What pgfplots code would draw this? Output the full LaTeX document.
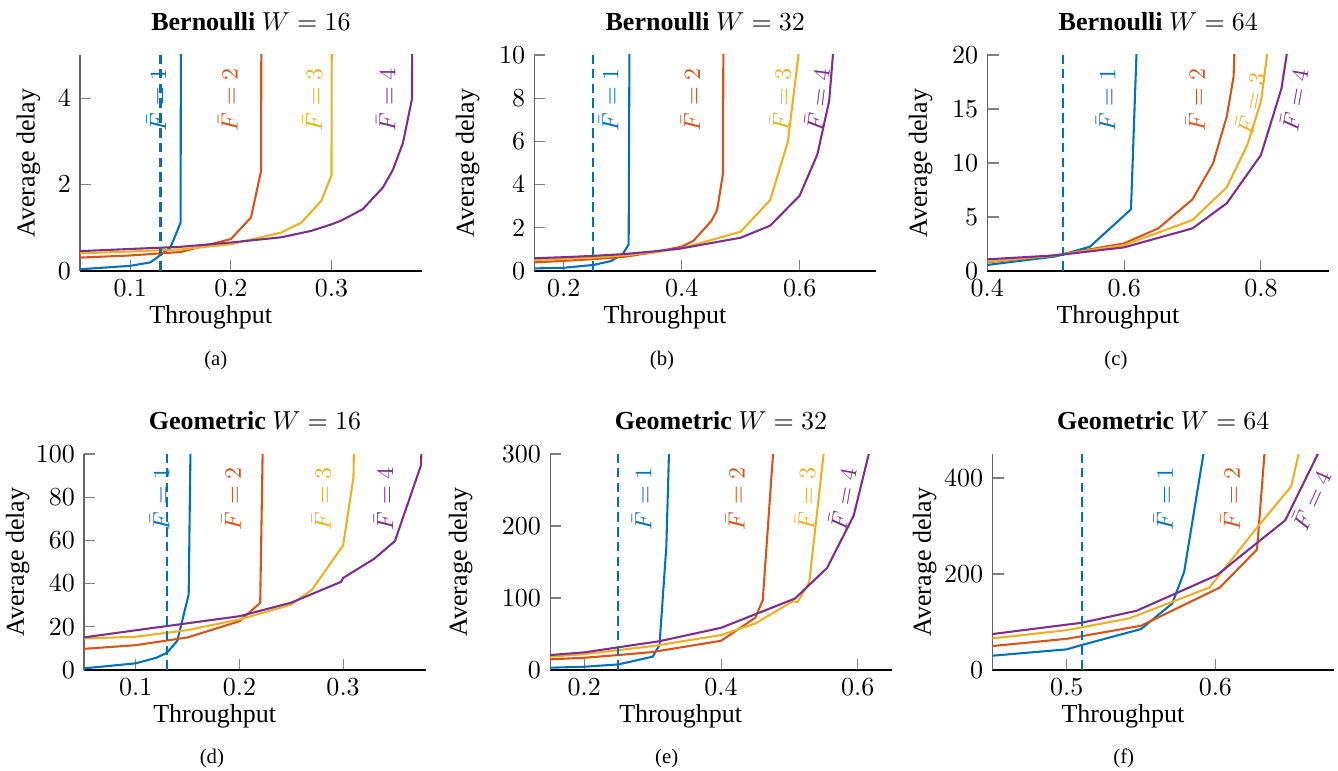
\documentclass[border=0pt]{standalone}
\usepackage[no-math]{fontspec}
\setmainfont{Liberation Serif}
\usepackage{pgfplots}
\pgfplotsset{compat=1.18}
\definecolor{c1}{rgb}{0,0.447,0.741}
\definecolor{c2}{rgb}{0.85,0.325,0.098}
\definecolor{c3}{rgb}{0.929,0.694,0.125}
\definecolor{c4}{rgb}{0.494,0.184,0.556}
\pgfplotsset{
  sub/.style={
    scale only axis, width=131.54pt, height=83.08pt,
    anchor=south west,
    axis lines=left, axis line style={-},
    x axis line style={draw=black}, y axis line style={draw=black!60},
    tick align=inside, major tick length=4.3pt,
    tick style={draw=black!50, line width=0.4pt},
    ymin=0,
    xlabel={Throughput}, ylabel={Average delay},
    title style={at={(0.5,1)}, anchor=base, yshift=3.6pt},
    xlabel style={at={(axis description cs:0.382,-0.241)}, anchor=base},
    ylabel style={at={(axis description cs:#1,0.5)}, anchor=center},
    every axis plot/.append style={line width=0.8pt},
  },
}
\tikzset{lab/.style={font=\small, inner sep=0pt, anchor=center}}
\begin{document}
\begin{tikzpicture}
\useasboundingbox (0,0) rectangle (514.6pt,-296.5pt);

% (a)
\begin{axis}[sub=-0.151, at={(30.77pt,-104.23pt)},
  title={\textbf{Bernoulli} $W=16$},
  xmin=0.05, xmax=0.39, ymax=5, xtick={0.1,0.2,0.3}, ytick={0,2,4}]
\addplot[c1] coordinates {(0.05,0.04)(0.1,0.12)(0.12,0.2)(0.13,0.37)(0.14,0.55)(0.15,1.12)(0.1505,8)};
\addplot[c2] coordinates {(0.05,0.31)(0.1,0.36)(0.15,0.44)(0.2,0.74)(0.22,1.24)(0.23,2.32)(0.2305,8)};
\addplot[c3] coordinates {(0.05,0.41)(0.1,0.45)(0.15,0.5)(0.2,0.62)(0.25,0.89)(0.27,1.12)(0.29,1.63)(0.3,2.22)(0.3005,8)};
\addplot[c4] coordinates {(0.05,0.46)(0.1,0.51)(0.15,0.56)(0.2,0.66)(0.25,0.78)(0.28,0.93)(0.3,1.08)(0.31,1.17)(0.331,1.43)(0.351,1.93)(0.361,2.34)(0.371,2.96)(0.38,3.98)(0.3805,8)};
\addplot[c1, dash pattern=on 3.7pt off 2pt] coordinates {(0.13,0)(0.13,5)};
\node[lab, rotate=90, text=c1] at (axis cs:0.126,3.96) {$\bar{F}=1$};
\node[lab, rotate=90, text=c2] at (axis cs:0.197,3.96) {$\bar{F}=2$};
\node[lab, rotate=90, text=c3] at (axis cs:0.281,3.96) {$\bar{F}=3$};
\node[lab, rotate=90, text=c4] at (axis cs:0.354,3.96) {$\bar{F}=4$};
\end{axis}

% (b)
\begin{axis}[sub=-0.195, at={(205.5pt,-104.23pt)},
  title={\textbf{Bernoulli} $W=32$},
  xmin=0.15, xmax=0.73, ymax=10, xtick={0.2,0.4,0.6}, ytick={0,2,4,6,8,10}]
\addplot[c1] coordinates {(0.15,0.12)(0.2,0.15)(0.25,0.28)(0.28,0.46)(0.3,0.79)(0.31,1.23)(0.312,15)};
\addplot[c2] coordinates {(0.15,0.4)(0.2,0.47)(0.25,0.55)(0.3,0.65)(0.35,0.85)(0.4,1.13)(0.42,1.4)(0.45,2.31)(0.46,2.82)(0.47,4.52)(0.471,15)};
\addplot[c3] coordinates {(0.15,0.51)(0.2,0.56)(0.25,0.62)(0.3,0.72)(0.35,0.85)(0.4,1.05)(0.5,1.82)(0.55,3.29)(0.58,5.99)(0.6,10.45)};
\addplot[c4] coordinates {(0.15,0.59)(0.2,0.64)(0.25,0.7)(0.3,0.78)(0.35,0.9)(0.4,1.05)(0.5,1.54)(0.55,2.1)(0.6,3.49)(0.63,5.4)(0.65,7.87)(0.66,11.2)};
\addplot[c1, dash pattern=on 3.7pt off 2pt] coordinates {(0.25,0)(0.25,10)};
\node[lab, rotate=90, text=c1] at (axis cs:0.276,7.92) {$\bar{F}=1$};
\node[lab, rotate=90, text=c2] at (axis cs:0.415,7.92) {$\bar{F}=2$};
\node[lab, rotate=88, text=c3] at (axis cs:0.567,7.92) {$\bar{F}=3$};
\node[lab, rotate=83, text=c4] at (axis cs:0.629,7.92) {$\bar{F}=4$};
\end{axis}

% (c)
\begin{axis}[sub=-0.195, at={(379.73pt,-104.23pt)},
  title={\textbf{Bernoulli} $W=64$},
  xmin=0.4, xmax=0.9, ymax=20, xtick={0.4,0.6,0.8}, ytick={0,5,10,15,20}]
\addplot[c1] coordinates {(0.4,0.56)(0.5,1.35)(0.55,2.25)(0.61,5.71)(0.62,23.6)};
\addplot[c2] coordinates {(0.4,0.8)(0.5,1.45)(0.6,2.56)(0.65,3.95)(0.7,6.64)(0.73,9.97)(0.75,14.3)(0.76,18)(0.762,22)};
\addplot[c3] coordinates {(0.4,0.86)(0.5,1.45)(0.6,2.4)(0.7,4.72)(0.75,7.75)(0.78,11.67)(0.8,15.7)(0.81,20.5)};
\addplot[c4] coordinates {(0.4,1.08)(0.5,1.45)(0.6,2.19)(0.7,3.95)(0.75,6.27)(0.8,10.74)(0.83,16.9)(0.84,21)};
\addplot[c1, dash pattern=on 3.7pt off 2pt] coordinates {(0.51,0)(0.51,20)};
\node[lab, rotate=90, text=c1] at (axis cs:0.573,15.8) {$\bar{F}=1$};
\node[lab, rotate=90, text=c2] at (axis cs:0.704,15.8) {$\bar{F}=2$};
\node[lab, rotate=78, text=c3] at (axis cs:0.784,15.5) {$\bar{F}=3$};
\node[lab, rotate=80, text=c4] at (axis cs:0.848,15.8) {$\bar{F}=4$};
\end{axis}

% (d)
\begin{axis}[sub=-0.194, at={(32.31pt,-257.69pt)},
  title={\textbf{Geometric} $W=16$},
  xmin=0.05, xmax=0.38, ymax=100, xtick={0.1,0.2,0.3}, ytick={0,20,40,60,80,100}]
\addplot[c1] coordinates {(0.05,0.77)(0.1,3.1)(0.12,5.7)(0.13,8)(0.14,13.5)(0.151,35)(0.1528,105)};
\addplot[c2] coordinates {(0.05,9.8)(0.1,11.5)(0.15,15.1)(0.2,22.6)(0.22,31.1)(0.2225,105)};
\addplot[c3] coordinates {(0.05,14.6)(0.1,15.4)(0.15,18.5)(0.2,23.4)(0.25,30.3)(0.27,37.2)(0.3,57.7)(0.31,89.2)(0.3105,105)};
\addplot[c4] coordinates {(0.05,15.1)(0.1,18.4)(0.2,24.9)(0.25,31.2)(0.298,40.8)(0.3,42.6)(0.33,51.5)(0.35,59.7)(0.375,94.6)(0.376,105)};
\addplot[c1, dash pattern=on 3.7pt off 2pt] coordinates {(0.13,0)(0.13,100)};
\node[lab, rotate=90, text=c1] at (axis cs:0.123,79.2) {$\bar{F}=1$};
\node[lab, rotate=90, text=c2] at (axis cs:0.192,79.2) {$\bar{F}=2$};
\node[lab, rotate=90, text=c3] at (axis cs:0.279,79.2) {$\bar{F}=3$};
\node[lab, rotate=90, text=c4] at (axis cs:0.339,79.2) {$\bar{F}=4$};
\end{axis}

% (e)
\begin{axis}[sub=-0.261, at={(211.54pt,-257.69pt)},
  title={\textbf{Geometric} $W=32$},
  xmin=0.15, xmax=0.65, ymax=300, xtick={0.2,0.4,0.6}, ytick={0,100,200,300}]
\addplot[c1] coordinates {(0.15,3.2)(0.2,4.5)(0.25,7.8)(0.3,18.5)(0.31,34.6)(0.32,170.8)(0.3245,320)};
\addplot[c2] coordinates {(0.15,14.8)(0.2,17)(0.25,20.8)(0.3,25)(0.4,40.6)(0.45,72.5)(0.461,96.9)(0.4775,320)};
\addplot[c3] coordinates {(0.15,18.5)(0.2,22)(0.25,27.7)(0.3,33.2)(0.4,48.5)(0.45,64.6)(0.505,95.5)(0.512,94.6)(0.529,122)(0.5523,320)};
\addplot[c4] coordinates {(0.15,20.8)(0.2,24.5)(0.31,40)(0.4,58.6)(0.508,99.2)(0.555,141.7)(0.594,214.6)(0.616,300)(0.62,316)};
\addplot[c1, dash pattern=on 3.7pt off 2pt] coordinates {(0.25,0)(0.25,300)};
\node[lab, rotate=90, text=c1] at (axis cs:0.284,237.6) {$\bar{F}=1$};
\node[lab, rotate=90, text=c2] at (axis cs:0.4205,237.6) {$\bar{F}=2$};
\node[lab, rotate=89, text=c3] at (axis cs:0.523,237.6) {$\bar{F}=3$};
\node[lab, rotate=80, text=c4] at (axis cs:0.577,237.6) {$\bar{F}=4$};
\end{axis}

% (f)
\begin{axis}[sub=-0.198, at={(381.65pt,-257.69pt)},
  title={\textbf{Geometric} $W=64$},
  xmin=0.45, xmax=0.68, ymax=450, xtick={0.5,0.6}, ytick={0,200,400}]
\addplot[c1] coordinates {(0.45,29.8)(0.5,43)(0.51,52)(0.55,85.3)(0.571,138.6)(0.579,204.5)(0.592,450.6)(0.594,490)};
\addplot[c2] coordinates {(0.45,49.9)(0.5,65)(0.55,92.2)(0.603,171.9)(0.628,251)(0.633,450)(0.634,490)};
\addplot[c3] coordinates {(0.45,65.9)(0.5,83)(0.542,107.5)(0.596,171.9)(0.628,296.7)(0.651,382.7)(0.656,450.6)(0.657,480)};
\addplot[c4] coordinates {(0.45,74.9)(0.51,98.4)(0.547,123.4)(0.601,197.6)(0.647,312)(0.669,450.6)(0.672,470)};
\addplot[c1, dash pattern=on 3.7pt off 2pt] coordinates {(0.51,0)(0.51,450)};
\node[lab, rotate=90, text=c1] at (axis cs:0.565,357) {$\bar{F}=1$};
\node[lab, rotate=90, text=c2] at (axis cs:0.61,357) {$\bar{F}=2$};
\node[lab, rotate=66, text=c4] at (axis cs:0.664,353.6) {$\bar{F}=4$};
\end{axis}

\node[font=\footnotesize, anchor=base] at (83.0pt,-140.4pt) {(a)};
\node[font=\footnotesize, anchor=base] at (254.6pt,-140.4pt) {(b)};
\node[font=\footnotesize, anchor=base] at (429.2pt,-140.4pt) {(c)};
\node[font=\footnotesize, anchor=base] at (81.5pt,-293.8pt) {(d)};
\node[font=\footnotesize, anchor=base] at (256.4pt,-293.8pt) {(e)};
\node[font=\footnotesize, anchor=base] at (432.2pt,-293.8pt) {(f)};
\end{tikzpicture}
\end{document}
